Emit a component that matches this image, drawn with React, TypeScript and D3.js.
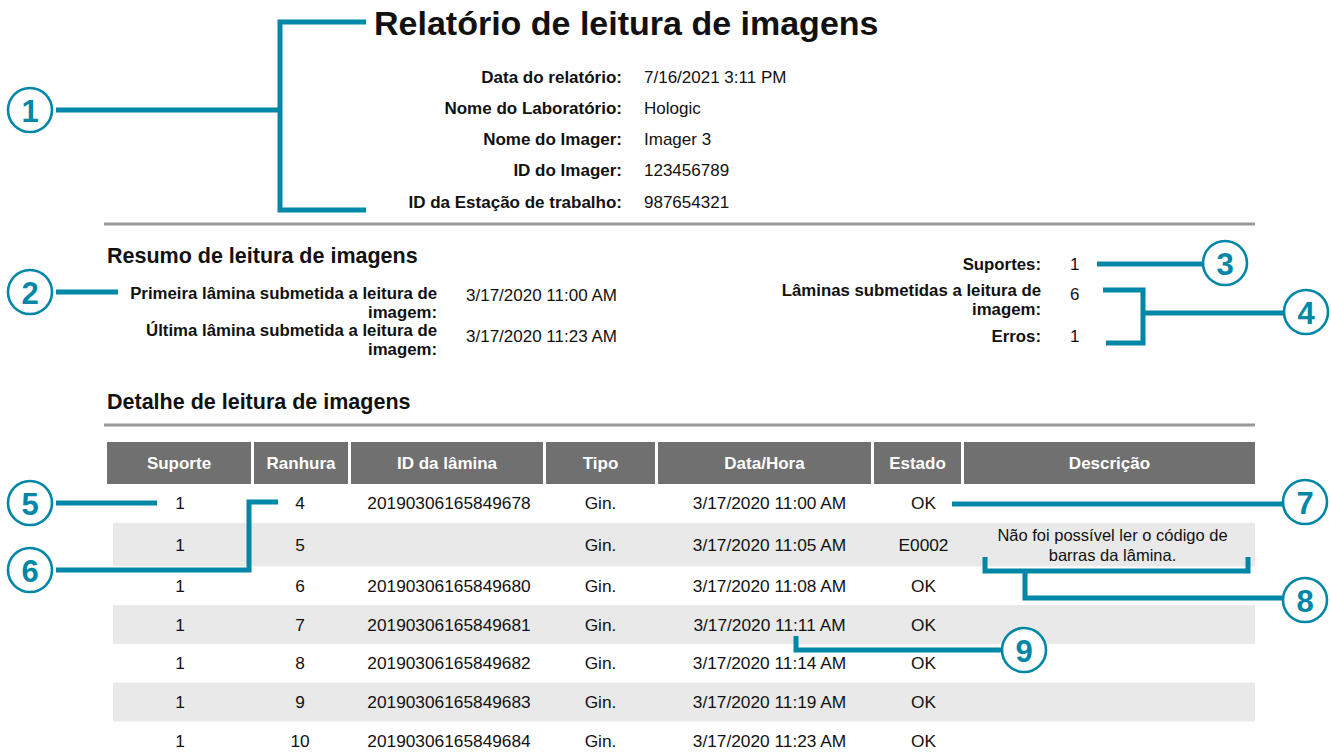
import React from 'react';
import * as d3 from 'd3';

// report header
const reportTitle = 'Relatório de leitura de imagens';
const infoLabels = ['Data do relatório:', 'Nome do Laboratório:', 'Nome do Imager:', 'ID do Imager:', 'ID da Estação de trabalho:'];
const infoValues = ['7/16/2021 3:11 PM', 'Hologic', 'Imager 3', '123456789', '987654321'];

// summary
const summaryTitle = 'Resumo de leitura de imagens';
const summaryLeftLabels = [
    ['Primeira lâmina submetida a leitura de', 'imagem:'],
    ['Última lâmina submetida a leitura de', 'imagem:'],
];
const summaryLeftValues = ['3/17/2020 11:00 AM', '3/17/2020 11:23 AM'];
const summaryRightLabels = [['Suportes:'], ['Lâminas submetidas a leitura de', 'imagem:'], ['Erros:']];
const summaryRightValues = ['1', '6', '1'];

// detail table
const detailTitle = 'Detalhe de leitura de imagens';
const columns = ['Suporte', 'Ranhura', 'ID da lâmina', 'Tipo', 'Data/Hora', 'Estado', 'Descrição'];
const suportes = ['1', '1', '1', '1', '1', '1', '1'];
const ranhuras = ['4', '5', '6', '7', '8', '9', '10'];
const slideIds = ['20190306165849678', '', '20190306165849680', '20190306165849681', '20190306165849682', '20190306165849683', '20190306165849684'];
const tipos = ['Gin.', 'Gin.', 'Gin.', 'Gin.', 'Gin.', 'Gin.', 'Gin.'];
const dataHora = ['3/17/2020 11:00 AM', '3/17/2020 11:05 AM', '3/17/2020 11:08 AM', '3/17/2020 11:11 AM', '3/17/2020 11:14 AM', '3/17/2020 11:19 AM', '3/17/2020 11:23 AM'];
const estados = ['OK', 'E0002', 'OK', 'OK', 'OK', 'OK', 'OK'];
const descricoes = [[], ['Não foi possível ler o código de', 'barras da lâmina.'], [], [], [], [], []];

// callout numbers
const calloutNumbers = ['1', '2', '3', '4', '5', '6', '7', '8', '9'];

// layout (not data)
const W = 1331;
const H = 752;
const TEAL = '#0087a7';
const FONT = '"Liberation Sans", Arial, Helvetica, sans-serif';
const colWidths = [144, 94, 192, 109, 213, 87, 291];
const colGap = 3;
const tableLeft = 107;
const tableRight = 1255;
const headerTop = 442;
const headerH = 42;
const dataShift = [1, -1, 2, 0, 5, 6, 3];

const App: React.FC = () => {
    // info rows on a point scale
    const infoY = d3.scalePoint<number>().domain(d3.range(infoLabels.length)).range([77, 202]);

    // column edges
    const colStarts = [tableLeft, ...Array.from(d3.cumsum(colWidths.map(w => w + colGap))).map(v => tableLeft + v)].slice(0, colWidths.length);
    const colCenter = (i: number) => colStarts[i] + colWidths[i] / 2;

    // row heights: rows with two-line description are taller
    const rowHeights = descricoes.map(d => (d.length > 1 ? 43.5 : 38.8));
    const rowTops = [headerTop + headerH, ...Array.from(d3.cumsum(rowHeights)).map(v => headerTop + headerH + v)];

    const rows = ranhuras.map((_, i) => [suportes[i], ranhuras[i], slideIds[i], tipos[i], dataHora[i], estados[i]]);

    // callout geometry
    const callouts = [
        { c: [30, 110], d: 'M366,22 H280 V210 H366 M56,110 H280' },
        { c: [30, 292], d: 'M56,292 H118' },
        { c: [1225, 263], d: 'M1097,264 H1202' },
        { c: [1306, 312], d: 'M1103,290 H1143 V343 H1106 M1143,313 H1284' },
        { c: [30, 503], d: 'M56,503 H157' },
        { c: [30, 570], d: 'M56,570 H249 V502 H278' },
        { c: [1305, 502], d: 'M952,504 H1282' },
        { c: [1305, 600], d: 'M985,557 V571 H1248 V557 M1025,571 V598 H1282' },
        { c: [1024, 650], d: 'M796,636 V650 H1001' },
    ];

    const txt = { fontFamily: FONT, fill: '#111' } as const;

    return (
        <svg width={W} height={H} style={{ position: 'absolute', left: 0, top: 0, background: '#fff' }}>
            <rect width={W} height={H} fill="#fff" />

            {/* title */}
            <text x={374} y={35} fontSize={34} fontWeight="bold" {...txt}>{reportTitle}</text>

            {/* info block */}
            {infoLabels.map((l, i) => (
                <g key={l}>
                    <text x={622} y={infoY(i)} textAnchor="end" dominantBaseline="central" fontSize={17} fontWeight="bold" {...txt}>{l}</text>
                    <text x={644} y={infoY(i)} dominantBaseline="central" fontSize={17} {...txt}>{infoValues[i]}</text>
                </g>
            ))}

            <line x1={104} x2={tableRight} y1={224} y2={224} stroke="#9a9a9a" strokeWidth={3} />

            {/* summary */}
            <text x={107} y={256} dominantBaseline="central" fontSize={21.5} fontWeight="bold" {...txt}>{summaryTitle}</text>
            {summaryLeftLabels.map((lines, i) => (
                <g key={i}>
                    {lines.map((ln, j) => (
                        <text key={j} x={437} y={[293, 330][i] + j * 19} textAnchor="end" dominantBaseline="central" fontSize={16.8} fontWeight="bold" {...txt}>{ln}</text>
                    ))}
                    <text x={466} y={[295, 336][i]} dominantBaseline="central" fontSize={17} {...txt}>{summaryLeftValues[i]}</text>
                </g>
            ))}
            {summaryRightLabels.map((lines, i) => (
                <g key={i}>
                    {lines.map((ln, j) => (
                        <text key={j} x={1041} y={[264, 290, 336][i] + j * 19} textAnchor="end" dominantBaseline="central" fontSize={16.8} fontWeight="bold" {...txt}>{ln}</text>
                    ))}
                    <text x={1070} y={[264, 294, 336][i]} dominantBaseline="central" fontSize={17} {...txt}>{summaryRightValues[i]}</text>
                </g>
            ))}

            {/* detail */}
            <text x={107} y={402} dominantBaseline="central" fontSize={21.5} fontWeight="bold" {...txt}>{detailTitle}</text>
            <line x1={104} x2={tableRight} y1={425} y2={425} stroke="#9a9a9a" strokeWidth={3} />

            {/* header */}
            {columns.map((c, i) => (
                <g key={c}>
                    <rect x={colStarts[i]} y={headerTop} width={colWidths[i]} height={headerH} fill="#6f706f" />
                    <text x={colCenter(i)} y={headerTop + headerH / 2} textAnchor="middle" dominantBaseline="central" fontSize={17} fontWeight="bold" fontFamily={FONT} fill="#fff">{c}</text>
                </g>
            ))}

            {/* rows */}
            {rows.map((r, i) => (
                <g key={i}>
                    {i % 2 === 1 && (
                        <rect x={113} y={rowTops[i]} width={tableRight - 113} height={rowHeights[i]} fill="#e8e9e8" />
                    )}
                    {r.map((v, j) => (
                        <text key={j} x={colCenter(j) + dataShift[j]} y={rowTops[i] + rowHeights[i] / 2} textAnchor="middle" dominantBaseline="central" fontSize={17.3} {...txt}>{v}</text>
                    ))}
                    {descricoes[i].map((ln, j) => (
                        <text key={'d' + j} x={colCenter(6) + dataShift[6]} y={rowTops[i] + rowHeights[i] / 2 + (j - (descricoes[i].length - 1) / 2) * 20} textAnchor="middle" dominantBaseline="central" fontSize={16.5} {...txt}>{ln}</text>
                    ))}
                </g>
            ))}

            {/* callouts */}
            {callouts.map((co, i) => (
                <g key={i}>
                    <path d={co.d} fill="none" stroke={TEAL} strokeWidth={5} />
                    <circle cx={co.c[0]} cy={co.c[1]} r={22} fill="#fff" stroke={TEAL} strokeWidth={2.6} />
                    <text x={co.c[0]} y={co.c[1] + 1} textAnchor="middle" dominantBaseline="central" fontSize={31} fontWeight="bold" fontFamily={FONT} fill={TEAL}>{calloutNumbers[i]}</text>
                </g>
            ))}
        </svg>
    );
};

export default App;
